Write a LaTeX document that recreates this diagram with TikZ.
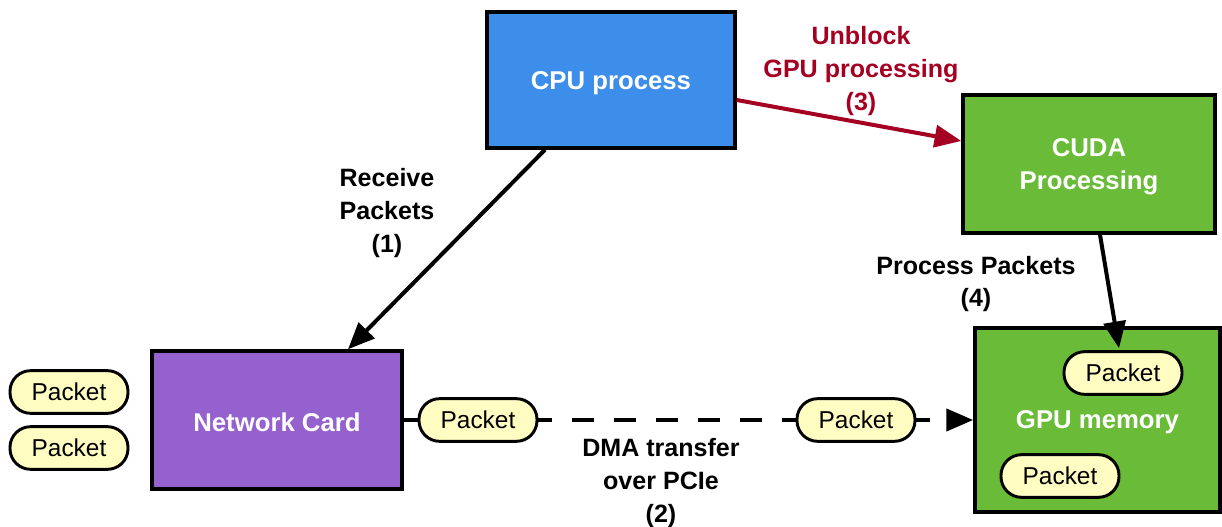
\documentclass[tikz,border=0pt]{standalone}
\usepackage{fontspec}
\setmainfont{Liberation Sans}
\usetikzlibrary{arrows.meta,calc}
\definecolor{cpublue}{HTML}{3D8EEB}
\definecolor{cudagreen}{HTML}{69BB38}
\definecolor{nicpurple}{HTML}{9461CE}
\definecolor{darkred}{HTML}{A50021}
\definecolor{pktyellow}{HTML}{FFFDC2}
\tikzset{
  box/.style={draw=black, line width=2.6pt, text=white, font=\fontsize{19.3}{24.4}\selectfont\bfseries, align=center, inner sep=0pt},
  pkt/.style={draw=black, line width=2.2pt, fill=pktyellow, rounded corners=15.5pt, minimum width=88.5pt, minimum height=32pt, inner sep=0pt, font=\fontsize{18.3}{22}\selectfont},
  lbl/.style={font=\fontsize{18.8}{24.4}\selectfont\bfseries, align=center},
  arr/.style={line width=3pt, -{Triangle[length=20pt,width=16.5pt]}},
}
\begin{document}
\begin{tikzpicture}[x=0.75pt,y=-0.75pt]
\useasboundingbox (0,0) rectangle (1222,527);
% boxes
\node[box, fill=cpublue, minimum width=186pt, minimum height=102pt] (cpu) at (611,80) {};
\node[box, fill=cudagreen, minimum width=189pt, minimum height=103.5pt] (cuda) at (1089,164) {};
\node[box, fill=nicpurple, minimum width=187.5pt, minimum height=103.5pt] (net) at (277,420) {};
\node[box, fill=cudagreen, minimum width=184pt, minimum height=138pt] (gpu) at (1097.5,420) {};
\node[box, draw=none] (cput) at ($(cpu)+(0,3)$) {CPU process};
\node[box, draw=none] (cudat) at ($(cuda)+(0,3)$) {CUDA\\Processing};
\node[box, draw=none] (nett) at ($(net)+(0,2)$) {Network Card};
\node[box, draw=none] (gput) at ($(gpu)+(0,2)$) {GPU memory};
% dashed transfer
\draw[line width=3pt, dash pattern=on 16.5pt off 15pt, -{Triangle[length=20pt,width=16.5pt]}] (net.east) -- (gpu.west);
% packets
\node[pkt] (p1) at (69,392) {Packet};
\node[pkt] (p2) at (69,448) {Packet};
\node[pkt] (p3) at (478,420) {Packet};
\node[pkt] (p4) at (856,420) {Packet};
\node[pkt] (g1) at (1123,373) {Packet};
\node[pkt] (g2) at (1060,476) {Packet};
% arrows
\draw[arr] ($(cpu.south)+(-66,0)$) -- ($(net.north)+(71,0)$);
\draw[arr, draw=darkred, fill=darkred] ($(cpu.east)+(0,20)$) -- ($(cuda.west)+(0,-23)$);
\draw[arr] ($(cuda.south)+(11,0)$) -- ($(g1.north)+(-4,-2)$);
% labels
\node[lbl] (l1) at (387,213) {Receive\\Packets\\(1)};
\node[lbl, text=darkred] (l3) at (861,71) {Unblock\\GPU processing\\(3)};
\node[lbl] (l4) at (976,284) {Process Packets\\(4)};
\node[lbl] (l2) at (661,483) {DMA transfer\\over PCIe\\(2)};
\end{tikzpicture}
\end{document}
